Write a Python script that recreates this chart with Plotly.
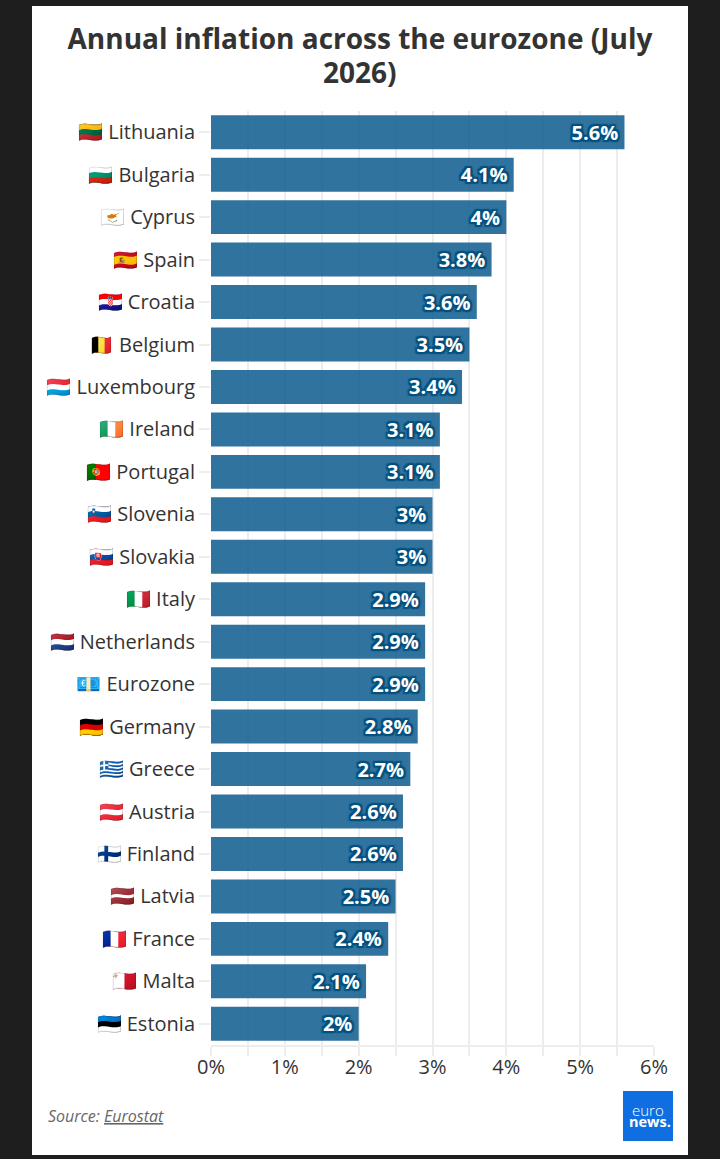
import plotly.graph_objects as go

countries = ["Lithuania","Bulgaria","Cyprus","Spain","Croatia","Belgium","Luxembourg","Ireland","Portugal","Slovenia","Slovakia","Italy","Netherlands","Eurozone","Germany","Greece","Austria","Finland","Latvia","France","Malta","Estonia"]
flags = ["🇱🇹","🇧🇬","🇨🇾","🇪🇸","🇭🇷","🇧🇪","🇱🇺","🇮🇪","🇵🇹","🇸🇮","🇸🇰","🇮🇹","🇳🇱","💶","🇩🇪","🇬🇷","🇦🇹","🇫🇮","🇱🇻","🇫🇷","🇲🇹","🇪🇪"]
values = [5.6,4.1,4,3.8,3.6,3.5,3.4,3.1,3.1,3,3,2.9,2.9,2.9,2.8,2.7,2.6,2.6,2.5,2.4,2.1,2]
labels = [f"{f} {c}" for f, c in zip(flags, countries)]
value_text = [f"{v:g}%\u2009" for v in values]
x_ticks = [0,1,2,3,4,5,6]
x_tick_text = [f"{t}%" for t in x_ticks]

W, H = 720, 1159
L, R, T, B = 211, 66, 111, 114
GRID = "#ededed"
halo = "#04517f"
shadow = ", ".join(f"{a}px {b}px 1px {halo}" for a, b in [(-2,0),(2,0),(0,-2),(0,2),(-2,-2),(2,2),(-2,2),(2,-2)])

def px(x):
    return (x - L) / (W - L - R)

def py(y):
    return (H - B - y) / (H - T - B)

fig = go.Figure(go.Bar(
    x=values, y=labels, orientation="h",
    marker=dict(color="#0d5b8e", opacity=0.85, line=dict(width=0)),
    text=value_text, textposition="inside", insidetextanchor="end",
    textangle=0, constraintext="none",
    textfont=dict(family="Open Sans", size=20, color="white", weight="bold", shadow=shadow),
    width=0.8,
))
fig.update_layout(
    width=W, height=H, margin=dict(l=L, r=R, t=T, b=B, pad=0),
    paper_bgcolor="#1e1e1e", plot_bgcolor="white", showlegend=False,
    font=dict(family="Open Sans", color="#333333"),
    title=dict(text="Annual inflation across the eurozone (July", x=0.5, xanchor="center", xref="container",
               y=1-39/H, yanchor="middle", yref="container",
               font=dict(family="Open Sans", size=28, color="#333333", weight="bold")),
    xaxis=dict(range=[0,6], tickvals=x_ticks, ticktext=x_tick_text, showgrid=True, gridcolor=GRID, gridwidth=2,
               ticks="outside", ticklen=9, tickcolor=GRID, tickwidth=2, tickfont=dict(size=20, color="#333333"),
               ticklabelstandoff=-6,
               minor=dict(tick0=0, dtick=0.5, showgrid=True, gridcolor=GRID, gridwidth=2, ticks="outside", ticklen=9, tickcolor=GRID, tickwidth=2),
               zeroline=False, showline=True, linecolor=GRID, linewidth=2),
    yaxis=dict(categoryorder="array", categoryarray=labels, autorange="reversed", showgrid=False,
               ticks="outside", ticklen=11, tickcolor=GRID, tickwidth=2, tickfont=dict(size=20, color="#333333"),
               ticklabelstandoff=0, zeroline=False),
    bargap=0.2,
    shapes=[dict(type="rect", xref="paper", yref="paper", layer="below",
                 x0=px(32), x1=px(688), y0=py(1155), y1=py(6),
                 fillcolor="white", line=dict(width=0)),
            dict(type="rect", xref="paper", yref="paper", layer="above",
                 x0=px(623), x1=px(673), y0=py(1141), y1=py(1091),
                 fillcolor="#0f6fe0", line=dict(width=0))],
    annotations=[
        dict(text="2026)", xref="paper", yref="paper", x=px(360), y=py(72), xanchor="center", yanchor="middle",
             showarrow=False, font=dict(family="Open Sans", size=28, color="#333333", weight="bold")),
        dict(text="<i>Source: <u>Eurostat</u></i>", xref="paper", yref="paper", x=px(46), y=py(1116), xanchor="left", yanchor="middle",
             showarrow=False, font=dict(family="Open Sans", size=16, color="#666666")),
        dict(text="euro", xref="paper", yref="paper", x=px(648), y=py(1110), xanchor="center", yanchor="middle",
             showarrow=False, font=dict(family="Open Sans", size=15, color="white", weight=300)),
        dict(text="<b>news.</b>", xref="paper", yref="paper", x=px(650), y=py(1121), xanchor="center", yanchor="middle",
             showarrow=False, font=dict(family="Open Sans", size=14.5, color="white")),
    ],
)
fig.write_html("out.html", config={"displayModeBar": False}, post_script="document.body.style.margin='0';")
